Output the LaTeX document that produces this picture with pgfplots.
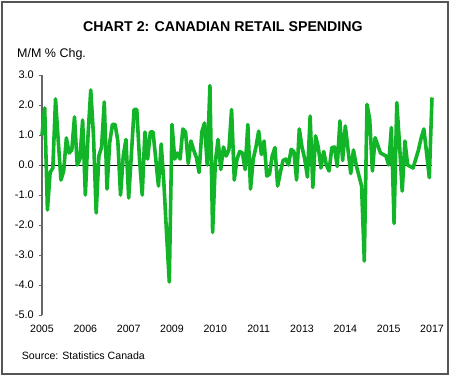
\documentclass[border=0pt]{standalone}
\usepackage{pgfplots}
\pgfplotsset{compat=1.18}
\usepackage{fontspec}
\setmainfont{Liberation Sans}
\definecolor{linegreen}{RGB}{18,180,40}
\definecolor{framegray}{RGB}{85,85,85}
\begin{document}
\begin{tikzpicture}
\path (0,0) rectangle (450bp,376bp);
\draw[framegray, line width=1.5bp] (2bp,2bp) rectangle (448bp,374bp);
\node[anchor=base, font=\fontsize{14.2bp}{17bp}\selectfont\bfseries, inner sep=0pt] at (223bp,344.3bp) {CHART 2: CANADIAN RETAIL SPENDING};
\node[anchor=base west, font=\fontsize{12.5bp}{15bp}\selectfont, inner sep=0pt] at (17bp,318.7bp) {M/M \% Chg.};
\node[anchor=base west, font=\fontsize{10.6bp}{13bp}\selectfont, inner sep=0pt] at (21.7bp,16.7bp) {Source: Statistics Canada};
\begin{axis}[
  at={(42bp,61bp)}, anchor=south west,
  width=390bp, height=240bp, scale only axis,
  xmin=0, xmax=144, ymin=-5, ymax=3,
  axis y line*=left, axis x line*=bottom,
  x axis line style={draw=none},
  y axis line style={draw=gray!80!black, line width=1.2bp},
  xtick={0,16,...,144},
  xticklabels={2005,2006,2007,2009,2010,2011,2013,2014,2015,2017},
  x tick style={draw=none},
  ytick={-5,-4,...,3},
  yticklabels={-5.0,-4.0,-3.0,-2.0,-1.0,0.0,1.0,2.0,3.0},
  y tick style={draw=gray!80!black, line width=0.8bp},
  major tick length=2.5bp,
  tick align=outside,
  xticklabel style={font=\fontsize{10.6bp}{12bp}\selectfont, anchor=north, inner sep=0pt, yshift=-7bp},
  yticklabel style={font=\fontsize{11bp}{12bp}\selectfont, anchor=east, inner sep=0pt, xshift=-5.5bp},
  clip=false,
]
\addplot[black, line width=0.8bp] coordinates {(0,0) (144,0)};
\addplot[linegreen, line width=3.6bp, line join=round] coordinates {
(0,1.0)(1,1.9)(2,-1.5)(3,-0.25)(4,-0.1)(5,2.2)(6,0.8)(7,-0.5)(8,-0.2)(9,0.9)
(10,0.4)(11,0.5)(12,1.6)(13,0.0)(14,0.2)(15,1.5)(16,-1.0)(17,1.0)(18,2.5)(19,1.0)
(20,-1.6)(21,0.3)(22,0.6)(23,2.1)(24,-0.8)(25,0.75)(26,1.35)(27,1.35)(28,0.8)(29,-1.0)
(30,0.3)(31,0.85)(32,-1.1)(33,0.35)(34,1.85)(35,1.85)(36,0.2)(37,-1.0)(38,1.1)(39,0.2)
(40,1.1)(41,1.1)(42,0.2)(43,-0.7)(44,0.7)(45,-0.6)(46,-2.3)(47,-3.9)(48,1.35)(49,0.2)
(50,0.4)(51,0.2)(52,1.2)(53,1.1)(54,0.05)(55,0.8)(56,0.5)(57,0.25)(58,-0.25)(59,1.1)
(60,1.4)(61,0.0)(62,2.65)(63,-2.25)(64,0.1)(65,0.85)(66,-0.15)(67,0.6)(68,0.3)(69,0.5)
(70,1.85)(71,-0.5)(72,0.2)(73,0.45)(74,0.4)(75,-0.15)(76,1.35)(77,-0.8)(78,0.2)(79,0.6)
(80,1.13)(81,0.35)(82,0.8)(83,-0.37)(84,-0.3)(85,0.3)(86,0.58)(87,-0.7)(88,-0.25)(89,0.15)
(90,0.2)(91,0.0)(92,0.52)(93,0.45)(94,-0.5)(95,1.2)(96,0.6)(97,0.2)(98,-0.4)(99,1.63)
(100,-0.75)(101,0.97)(102,0.6)(103,-0.1)(104,0.45)(105,0.0)(106,-0.2)(107,0.58)(108,0.6)(109,-0.05)
(110,1.47)(111,0.15)(112,1.3)(113,0.5)(114,-0.28)(115,0.5)(116,0.0)(117,-0.35)(118,-0.7)(119,-3.2)
(120,2.02)(121,1.52)(122,-0.2)(123,0.91)(124,0.65)(125,0.4)(126,0.35)(127,0.3)(128,0.0)(129,1.25)
(130,-1.95)(131,2.08)(132,0.7)(133,-0.87)(134,0.8)(135,0.0)(136,-0.05)(137,-0.1)(138,0.2)(139,0.5)
(140,0.9)(141,1.2)(142,0.4)(143,-0.42)(144,2.25)
};
\end{axis}
\end{tikzpicture}
\end{document}
